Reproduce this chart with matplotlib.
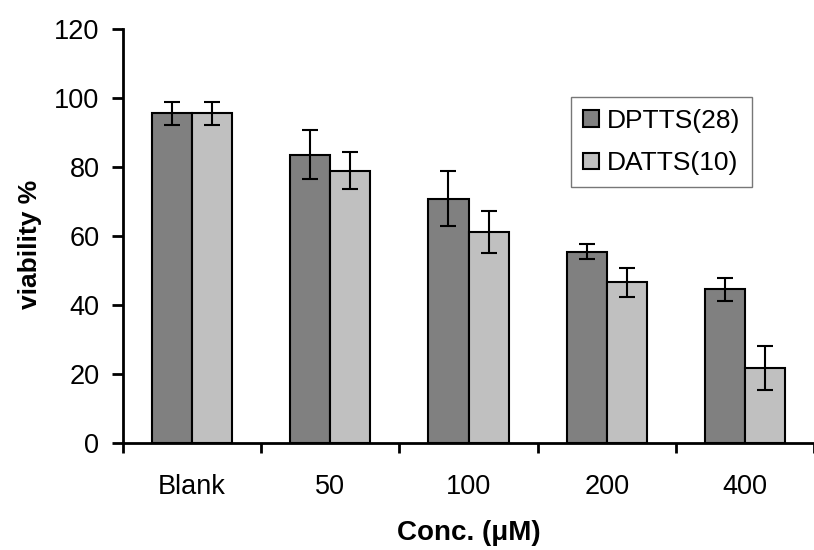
import numpy as np
import matplotlib
matplotlib.use('Agg')
import matplotlib.pyplot as plt

plt.rcParams['font.family'] = ['Liberation Sans', 'DejaVu Sans']

categories = ['Blank', '50', '100', '200', '400']
dptts = [95.6, 83.6, 70.8, 55.5, 44.5]
dptts_err = [3.3, 7.0, 8.0, 2.2, 3.2]
datts = [95.6, 78.9, 61.1, 46.6, 21.8]
datts_err = [3.3, 5.4, 6.1, 4.2, 6.4]

W, H = 814, 550
fig = plt.figure(figsize=(W / 100, H / 100), dpi=100)
ax = fig.add_axes([123 / W, 1 - 443 / H, (W - 123) / W, (443 - 29) / H])

x = np.arange(len(categories))
bw = 0.29
err_kw = dict(ecolor='black', elinewidth=1.5, capsize=6, capthick=1.5)
ax.bar(x - bw / 2, dptts, bw, yerr=dptts_err, color='#808080', edgecolor='black',
       linewidth=1.5, label='DPTTS(28)', error_kw=err_kw)
ax.bar(x + bw / 2, datts, bw, yerr=datts_err, color='#c0c0c0', edgecolor='black',
       linewidth=1.5, label='DATTS(10)', error_kw=err_kw)

ax.set_xlim(-0.5, len(categories) - 0.5)
ax.set_ylim(0, 120)
ax.set_yticks(np.arange(0, 121, 20))

# separators between groups as major ticks, labels on minor ticks
ax.set_xticks(np.arange(-0.5, len(categories), 1.0))
ax.set_xticklabels([])
ax.set_xticks(x, minor=True)
ax.set_xticklabels(categories, minor=True)
ax.tick_params(axis='x', which='major', direction='out', length=7, width=2)
ax.tick_params(axis='x', which='minor', length=0, pad=22, labelsize=19.5)
ax.tick_params(axis='y', direction='out', length=8, width=2, pad=9, labelsize=19.5)

for s in ['top', 'right']:
    ax.spines[s].set_visible(False)
for s in ['left', 'bottom']:
    ax.spines[s].set_linewidth(2)

ax.set_ylabel('viability %', fontsize=19, fontweight='bold')
ax.yaxis.set_label_coords(-0.117, 0.48)
ax.set_xlabel('Conc. (μM)', fontsize=20, fontweight='bold')
ax.xaxis.set_label_coords(0.5, -0.186)

leg = ax.legend(loc='upper left', bbox_to_anchor=(571 / W, 1 - 97 / H),
                bbox_transform=fig.transFigure, borderaxespad=0, fancybox=False,
                edgecolor='#555555', fontsize=19, handlelength=0.6, handleheight=0.6,
                handletextpad=0.3, labelspacing=0.7, borderpad=0.45)
leg.get_frame().set_linewidth(1)

fig.savefig('out.png', dpi=100)
